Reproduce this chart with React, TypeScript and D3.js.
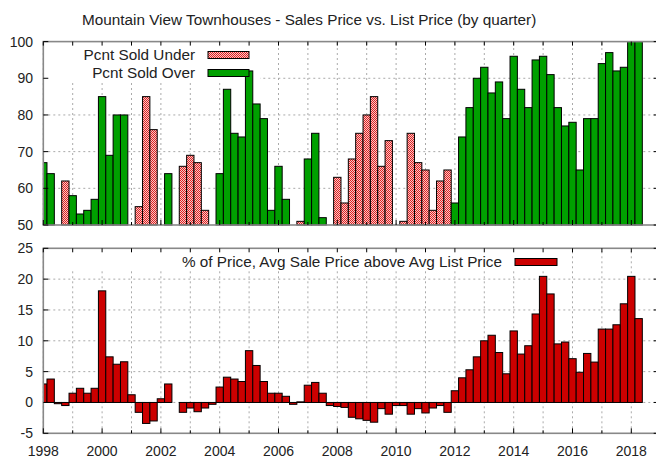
import React from "react";
import * as d3 from "d3";

// quarterly series, 1998 Q1 .. 2018 Q2 (null = no bar that quarter)
const startYear = 1998;
const pctSoldUnder = [
  null, null, null, 62, null, null, null, null, null, null, null, null,
  null, 55, 85, 76, null, null, null, 66, 69, 67, 54, null,
  null, null, null, null, null, null, null, null, null, null, null, 51,
  null, null, null, null, 63, 56, 68, 75, 80, 85, 66, 73,
  null, 51, 75, 67, 65, 54, 62, 65, null, null, null, null,
  null, null, null, null, null, null, null, null, null, null, null, null,
  null, null, null, null, null, null, null, null, null, null,
];
const pctSoldOver = [
  67, 64, null, null, 58, 53, 54, 57, 85, 69, 80, 80,
  null, null, null, null, null, 64, null, null, null, null, null, null,
  64, 87, 75, 74, 92, 83, 79, 54, 66, 57, null, null,
  68, 75, 52, null, null, null, null, null, null, null, null, null,
  null, null, null, null, null, null, null, null, 56, 74, 82, 90,
  93, 86, 89, 79, 96, 87, 82, 95, 96, 91, 82, 77,
  78, 65, 79, 79, 94, 97, 92, 93, 100, 100,
];
const pctAboveList = [
  3.0, 3.8, -0.2, -0.5, 1.5, 2.3, 1.5, 2.3, 18.1, 7.4, 6.2, 6.6,
  1.25, -1.6, -3.4, -3.0, 0.6, 3.0, 0, -1.6, -0.9, -1.5, -0.9, -0.3,
  2.5, 4.1, 3.8, 3.4, 8.4, 6.0, 3.4, 1.5, 1.5, 1.0, -0.3, 0.1,
  2.8, 3.25, 1.5, -0.5, -0.65, -0.8, -2.4, -2.65, -2.9, -3.2, -1.0, -1.9,
  -0.5, -0.5, -1.9, -1.0, -1.7, -0.9, -0.5, -1.6, 1.9, 4.0, 5.3, 7.4,
  10.0, 10.9, 8.1, 4.65, 11.6, 7.85, 9.2, 14.35, 20.45, 17.6, 9.5, 9.8,
  7.1, 4.9, 7.95, 6.55, 11.9, 11.9, 12.6, 16.0, 20.45, 13.6,
];
const yearTicks = d3.range(1998, 2020, 1);
const yearLabels = d3.range(1998, 2020, 2);
const topTicks = [50, 60, 70, 80, 90, 100];
const bottomTicks = [-5, 0, 5, 10, 15, 20, 25];

const W = 656;
const H = 461;
const FONT = "'Liberation Sans', Arial, sans-serif";
const GREEN = "#00a000";
const RED = "#cc0000";
const FRAME = "#888";
const GRID = "#aaa";
const TXT = 15.3; // title / key text is a bit larger than tick labels

const x = d3.scaleLinear().domain([1998, 2019]).range([43.3, 660.7]);
const yTop = d3.scaleLinear().domain([50, 100]).range([225, 41.6]);
const yBot = d3.scaleLinear().domain([-5, 25]).range([433.3, 248.3]);
const qw = x(1998.25) - x(1998);

const qx = (i: number) => x(startYear + i * 0.25) - qw / 2;

function Frame({ y, ticks, legendBox }: { y: d3.ScaleLinear<number, number>; ticks: number[]; legendBox: number[] }) {
  const [y0, y1] = y.range();
  const [x0, x1] = x.range();
  return (
    <g>
      {yearTicks.map((t) => (
        <line key={"gx" + t} x1={x(t)} x2={x(t)} y1={y0} y2={y1} stroke={GRID} strokeDasharray="2,3" strokeWidth={1} />
      ))}
      {ticks.slice(1, -1).map((t) => (
        <line key={"gy" + t} x1={x0} x2={x1} y1={y(t)} y2={y(t)} stroke={GRID} strokeDasharray="2,3" strokeWidth={1} />
      ))}
      <rect x={legendBox[0]} y={legendBox[1]} width={legendBox[2] - legendBox[0]} height={legendBox[3] - legendBox[1]} fill="#fff" />
    </g>
  );
}

function Border({ y, ticks, labelX }: { y: d3.ScaleLinear<number, number>; ticks: number[]; labelX: boolean }) {
  const [y0, y1] = y.range();
  const [x0, x1] = x.range();
  return (
    <g fontFamily={FONT} fontSize={14} fill="#222">
      <rect x={x0} y={y1} width={x1 - x0} height={y0 - y1} fill="none" stroke={FRAME} strokeWidth={1.6} />
      {yearTicks.map((t) => (
        <g key={"tx" + t} stroke="#000" strokeWidth={1}>
          <line x1={x(t)} x2={x(t)} y1={y1} y2={y1 + 4} />
          <line x1={x(t)} x2={x(t)} y1={y0} y2={y0 - (t % 2 === 0 ? 5 : 3)} />
        </g>
      ))}
      {ticks.map((t) => (
        <g key={"ty" + t}>
          <line x1={x0} x2={x0 + 5} y1={y(t)} y2={y(t)} stroke="#000" />
          <line x1={x1} x2={x1 - 7} y1={y(t)} y2={y(t)} stroke="#000" />
          <text x={33} y={y(t)} dy="0.35em" textAnchor="end">{t}</text>
        </g>
      ))}
      {labelX &&
        yearLabels.map((t) => (
          <text key={"lx" + t} x={x(t)} y={451} dy="0.35em" textAnchor="middle">{t}</text>
        ))}
    </g>
  );
}

export default function App() {
  const clipLeft = x.range()[0];
  return (
    <div style={{ position: "absolute", left: 0, top: 0 }}>
      <svg width={W} height={H} style={{ display: "block", background: "#fff" }}>
        <defs>
          <pattern id="check" width={2} height={2} patternUnits="userSpaceOnUse">
            <rect width={2} height={2} fill="#f7c8c8" />
            <rect width={1} height={1} fill="#e02020" />
            <rect x={1} y={1} width={1} height={1} fill="#e02020" />
          </pattern>
          <clipPath id="plot">
            <rect x={clipLeft} y={0} width={W} height={H} />
          </clipPath>
        </defs>

        <text x={82} y={20} dy="0.35em" fontFamily={FONT} fontSize={TXT} fill="#222">
          Mountain View Townhouses - Sales Price vs. List Price (by quarter)
        </text>

        {/* top panel */}
        <Frame y={yTop} ticks={topTicks} legendBox={[44, 43, 260, 82]} />
        <g clipPath="url(#plot)" stroke="#000" strokeWidth={1}>
          {pctSoldUnder.map((v, i) =>
            v == null ? null : (
              <rect key={"u" + i} x={qx(i)} y={yTop(v)} width={qw} height={yTop(50) - yTop(v)} fill="url(#check)" />
            )
          )}
          {pctSoldOver.map((v, i) =>
            v == null ? null : (
              <rect key={"o" + i} x={qx(i)} y={yTop(v)} width={qw} height={yTop(50) - yTop(v)} fill={GREEN} />
            )
          )}
        </g>
        <g fontFamily={FONT} fontSize={TXT} fill="#222">
          <text x={195} y={55} dy="0.35em" textAnchor="end">Pcnt Sold Under</text>
          <rect x={208} y={51.5} width={41} height={7} fill="url(#check)" stroke="#000" />
          <text x={195} y={73} dy="0.35em" textAnchor="end">Pcnt Sold Over</text>
          <rect x={208} y={69.5} width={41} height={7} fill={GREEN} stroke="#000" />
        </g>
        <Border y={yTop} ticks={topTicks} labelX={false} />

        {/* bottom panel */}
        <Frame y={yBot} ticks={bottomTicks} legendBox={[44, 250, 562, 270]} />
        <g clipPath="url(#plot)" stroke="#000" strokeWidth={1}>
          {pctAboveList.map((v, i) => (
            <rect
              key={"p" + i}
              x={qx(i)}
              y={yBot(Math.max(0, v))}
              width={qw}
              height={Math.abs(yBot(v) - yBot(0))}
              fill={RED}
            />
          ))}
        </g>
        <g fontFamily={FONT} fontSize={TXT} fill="#222">
          <text x={502} y={262} dy="0.35em" textAnchor="end">% of Price, Avg Sale Price above Avg List Price</text>
          <rect x={515} y={258.5} width={42} height={7} fill={RED} stroke="#000" />
        </g>
        <Border y={yBot} ticks={bottomTicks} labelX={true} />
      </svg>
    </div>
  );
}
